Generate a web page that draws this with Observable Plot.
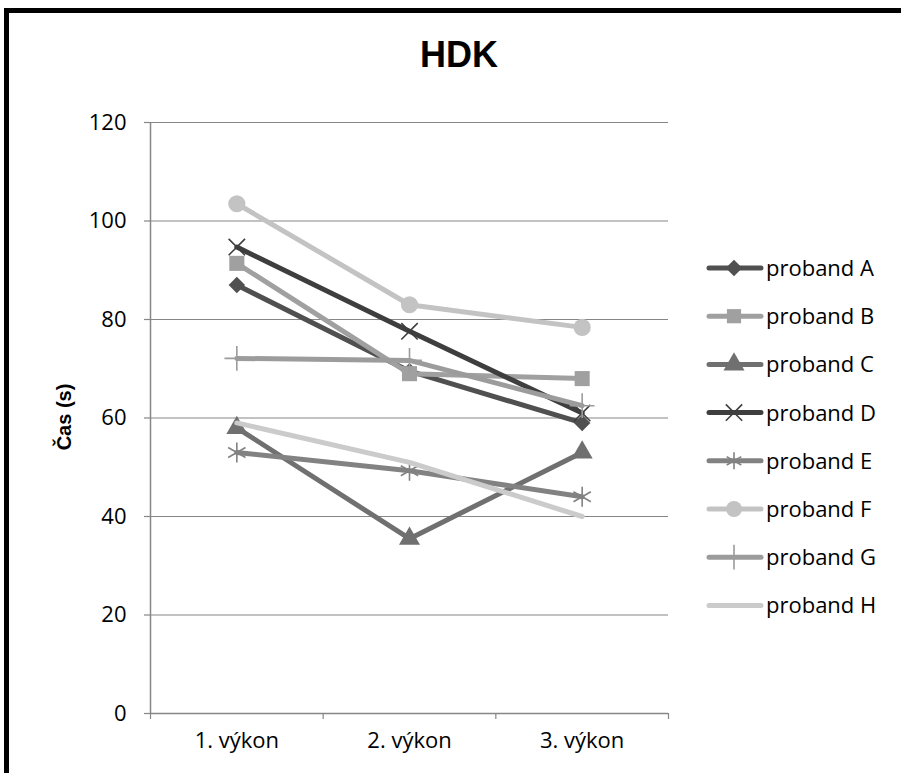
<!DOCTYPE html>
<html><head><meta charset="utf-8">
<script src="https://cdn.jsdelivr.net/npm/d3@7"></script>
<script src="https://cdn.jsdelivr.net/npm/@observablehq/plot@0.6"></script>
<style>
body{margin:0;background:#fff;font-family:"Open Sans",sans-serif;}
#wrap{position:relative;width:901px;height:773px;overflow:hidden;background:#fff;}
#frame{position:absolute;left:4px;top:8px;width:950px;height:850px;border:5px solid #000;box-sizing:border-box;}
#chart{position:absolute;left:0;top:0;}
#title{position:absolute;left:0;width:918px;top:34px;text-align:center;font-family:"Liberation Sans",Arial,sans-serif;font-weight:bold;font-size:36px;color:#000;}
#ylab{position:absolute;left:64px;top:417px;transform:translate(-50%,-50%) rotate(-90deg);font-family:"Liberation Sans",Arial,sans-serif;font-weight:bold;font-size:20px;white-space:nowrap;color:#000;}
#legend{position:absolute;left:0;top:0;}
</style></head>
<body>
<div id="wrap">
  <div id="frame"></div>
  <div id="chart"></div>
  <div id="title">HDK</div>
  <div id="ylab">Čas (s)</div>
  <div id="legend"></div>
</div>
<script>
const categories = ["1. výkon", "2. výkon", "3. výkon"];
const seriesNames = ["proband A","proband B","proband C","proband D","proband E","proband F","proband G","proband H"];
const probandA = [87, 69.5, 59];
const probandB = [91.4, 69, 68];
const probandC = [58, 35.5, 53];
const probandD = [94.7, 77.6, 61];
const probandE = [53, 49.3, 44];
const probandF = [103.5, 83, 78.4];
const probandG = [72.1, 71.7, 62.5];
const probandH = [59, 51, 40];
const yTicks = [0, 20, 40, 60, 80, 100, 120];

const seriesValues = [probandA, probandB, probandC, probandD, probandE, probandF, probandG, probandH];
const colors = ["#505050","#a0a0a0","#707070","#3e3e3e","#828282","#c3c3c3","#9c9c9c","#cbcbcb"];
const symbols = ["diamond2","square","triangle","times","asterisk","circle","plus",null];
const filled = [true,true,true,false,false,true,false,false];
const radii = [7.4,8.5,7.8,7.5,9.5,8.6,8,0];

const data = [];
seriesNames.forEach((s, si) => seriesValues[si].forEach((v, ci) => data.push({series: s, si, cat: categories[ci], idx: ci + 1, value: v})));

const marks = [
  Plot.gridY(yTicks, {stroke: "#868686", strokeOpacity: 1, strokeWidth: 1.2}),
  Plot.axisY(yTicks, {tickSize: 6, tickPadding: 18, fontSize: 22, stroke: "#868686", strokeWidth: 1.2, label: null, fill: "#000"}),
  Plot.ruleX([0.5], {stroke: "#868686", strokeWidth: 1.5}),
  Plot.ruleY([0], {stroke: "#868686", strokeWidth: 1.5}),
  Plot.axisX([0.5, 1.5, 2.5, 3.5], {tickSize: 6, tickFormat: () => "", stroke: "#868686", strokeWidth: 1.2, label: null}),
  Plot.axisX([1, 2, 3], {tickSize: 0, tickPadding: 19, fontSize: 22, tickFormat: d => categories[d - 1], label: null, fill: "#000"})
];
seriesNames.forEach((s, si) => {
  const d = data.filter(r => r.si === si);
  marks.push(Plot.line(d, {x: "idx", y: "value", stroke: colors[si], strokeWidth: 5, strokeLinecap: "round", strokeLinejoin: "round"}));
  if (symbols[si]) {
    marks.push(Plot.dot(d, {x: "idx", y: "value", symbol: () => symbols[si], r: radii[si],
      fill: filled[si] ? colors[si] : "none", stroke: filled[si] ? "none" : colors[si], strokeWidth: 1.6}));
  }
});

const chart = Plot.plot({
  width: 901, height: 773,
  marginLeft: 150, marginRight: 233, marginTop: 122, marginBottom: 60,
  style: {background: "transparent", fontFamily: "Open Sans, sans-serif", color: "#000"},
  x: {type: "linear", domain: [0.5, 3.5]},
  y: {domain: [0, 120]},
  symbol: {type: "identity"},
  marks
});
document.getElementById("chart").appendChild(chart);

// legend
const lg = d3.select("#legend").append("svg").attr("width", 901).attr("height", 773);
const symMap = {diamond2: d3.symbolDiamond2, square: d3.symbolSquare, triangle: d3.symbolTriangle, times: d3.symbolTimes, asterisk: d3.symbolAsterisk, circle: d3.symbolCircle, plus: d3.symbolPlus};
seriesNames.forEach((s, si) => {
  const cy = 268 + si * 48.2;
  const g = lg.append("g");
  g.append("line").attr("x1", 709).attr("x2", 761).attr("y1", cy).attr("y2", cy)
    .attr("stroke", colors[si]).attr("stroke-width", 5).attr("stroke-linecap", "round");
  if (symbols[si]) {
    const r = Math.min(radii[si], 8);
    g.append("path").attr("d", d3.symbol(symMap[symbols[si]], Math.PI * r * r)())
      .attr("transform", `translate(734,${cy})`)
      .attr("fill", filled[si] ? colors[si] : "none")
      .attr("stroke", filled[si] ? "none" : colors[si]).attr("stroke-width", 1.6);
  }
  g.append("text").attr("x", 766).attr("y", cy).attr("dy", "0.36em")
    .attr("font-size", 22).attr("font-family", "Open Sans, sans-serif").attr("fill", "#000").text(s);
});
</script>
</body></html>
